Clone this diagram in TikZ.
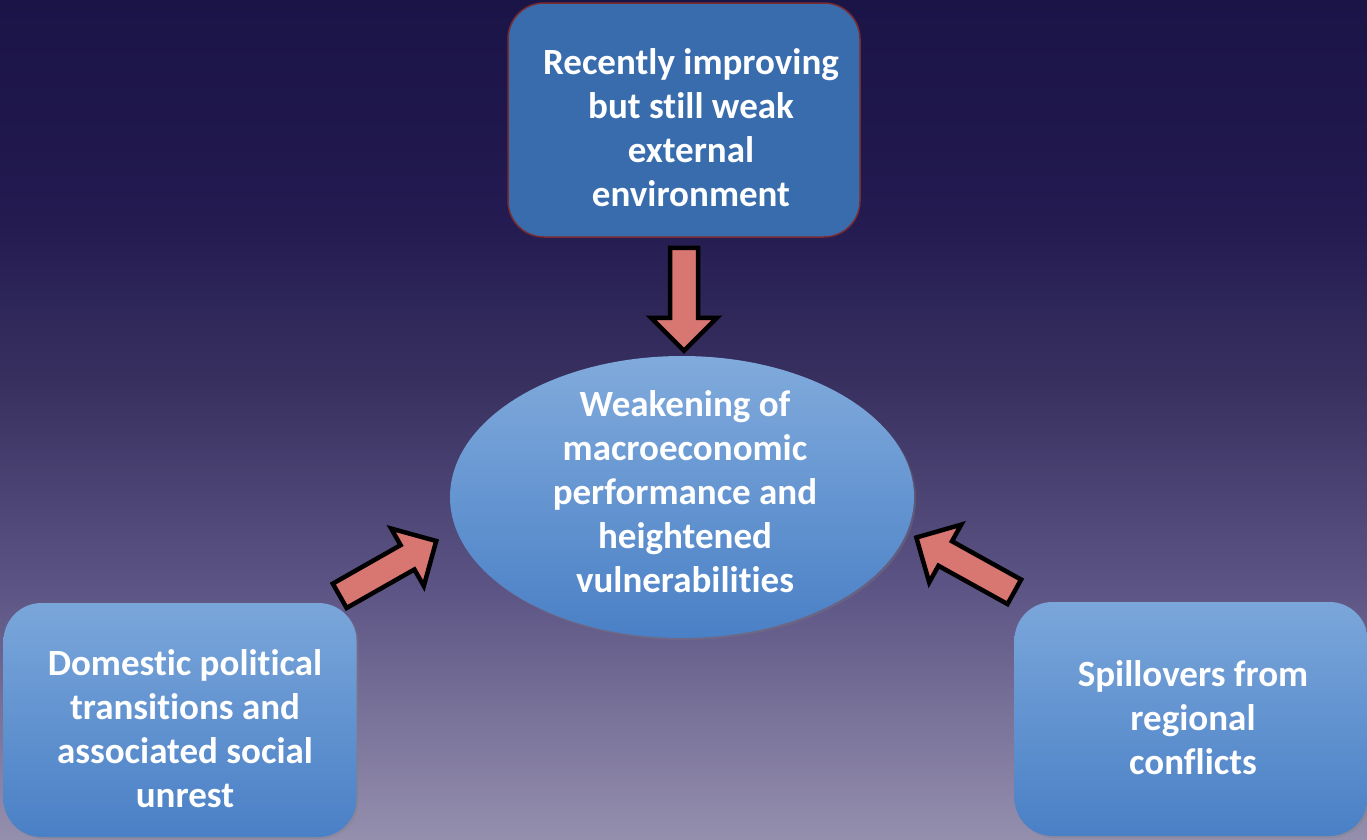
\documentclass[tikz,border=0pt]{standalone}
\usepackage{fontspec}
\setmainfont{Carlito}[RawFeature={-liga}]
\usetikzlibrary{shapes.geometric,shadows}

\definecolor{bgtop}{HTML}{1B1447}
\definecolor{bgdark}{HTML}{221A50}
\definecolor{bgupper}{HTML}{37305F}
\definecolor{bgmid}{HTML}{5C5484}
\definecolor{bgbot}{HTML}{958FAE}
\definecolor{boxdark}{HTML}{386CAD}
\definecolor{boxedge}{HTML}{7A2B30}
\definecolor{lightblue}{HTML}{7AA6DA}
\definecolor{deepblue}{HTML}{4A80C6}
\definecolor{arrowfill}{HTML}{D87672}

% the path is fitted to the band 25bp--75bp of this shading
\pgfdeclareverticalshading{skyback}{100bp}{%
  color(0bp)=(bgbot); color(25bp)=(bgbot); color(40bp)=(bgmid);
  color(52.5bp)=(bgupper); color(62.5bp)=(bgdark); color(75bp)=(bgtop);
  color(100bp)=(bgtop)}

% block arrow: tail point, direction angle, total length
\newcommand\pusharrow[3]{%
  \begin{scope}[shift={#1}, rotate=#2]
    \draw[pushstyle] (0,-14) -- ({#3-33},-14) -- ({#3-33},-33) -- (#3,0)
      -- ({#3-33},33) -- ({#3-33},14) -- (0,14) -- cycle;
  \end{scope}}

\begin{document}
\begin{tikzpicture}[x=1pt,y=-1pt,
  label/.style={text=white, align=center, font=\bfseries\fontsize{37}{44}\selectfont},
  topbox/.style={rectangle, rounded corners=36pt, minimum width=352pt,
    minimum height=234pt, fill=boxdark, draw=boxedge, line width=1.5pt},
  sidebox/.style={rectangle, rounded corners=38pt, minimum width=353pt,
    minimum height=234pt, top color=lightblue, bottom color=deepblue,
    drop shadow={opacity=0.35, shadow xshift=2pt, shadow yshift=-2pt}},
  core/.style={ellipse, minimum width=464pt, minimum height=282pt, inner sep=0pt,
    top color=lightblue!95!white, bottom color=deepblue,
    drop shadow={opacity=0.3, shadow xshift=2pt, shadow yshift=-2pt}},
  pushstyle/.style={fill=arrowfill, draw=black, line width=4.5pt, line join=miter}]

  % sky background
  \fill[shading=skyback] (0,0) rectangle (1367,839);
  \useasboundingbox (0,0) rectangle (1367,839);

  % central outcome
  \node[core] (core) at (682,497) {};
  \node[label] (coretext) at (685,492) {Weakening of\\macroeconomic\\performance and\\heightened\\vulnerabilities};

  % three drivers
  \node[topbox] (ext) at (684,120) {};
  \node[label] (exttext) at (691,128) {Recently improving\\but still weak\\external\\environment};
  \node[sidebox] (dom) at (180,720) {};
  \node[label] (domtext) at (185,729) {Domestic political\\transitions and\\associated social\\unrest};
  \node[sidebox] (spill) at (1191,719) {};
  \node[label] (spilltext) at (1193,718) {Spillovers from\\regional\\conflicts};

  % arrows feeding the centre
  \coordinate (extfoot) at ([yshift=-10pt]ext.south);
  \coordinate (domfoot) at ([xshift=-17pt,yshift=7pt]dom.north east);
  \coordinate (spillfoot) at ([xshift=0pt,yshift=10pt]spill.north west);
  \pusharrow{(extfoot)}{-90}{103}
  \pusharrow{(domfoot)}{29.6}{111}
  \pusharrow{(spillfoot)}{151}{112}
\end{tikzpicture}
\end{document}
